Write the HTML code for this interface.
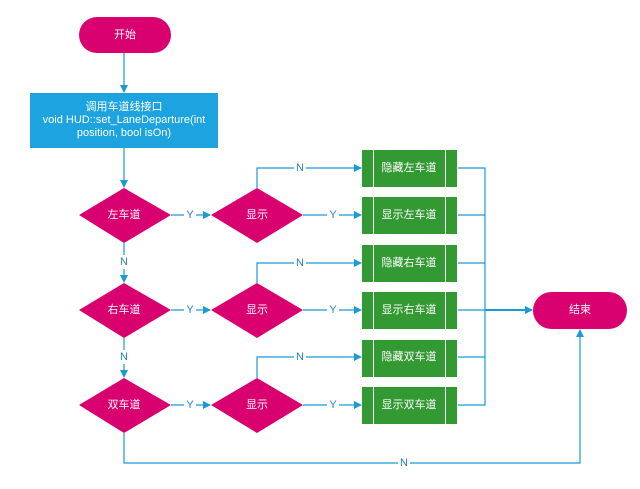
<!DOCTYPE html>
<html><head><meta charset="utf-8"><style>
html,body{margin:0;padding:0;background:#fff;}
svg{display:block;}
text{font-family:"Liberation Sans","Noto Sans CJK SC",sans-serif;font-size:11px;fill:#fff;text-anchor:middle;dominant-baseline:central;}
.l{fill:#2b7fb5;font-size:11px;}
</style></head><body>
<svg width="640" height="489" viewBox="0 0 640 489" xmlns="http://www.w3.org/2000/svg">
<defs><marker id="a" markerWidth="8" markerHeight="8" refX="7" refY="4" orient="auto" markerUnits="userSpaceOnUse"><path d="M0,0 L8,4 L0,8 Z" fill="#1a9ad6"/></marker></defs>
<g stroke="#1a9ad6" stroke-width="1.2" fill="none">
<line x1="124" y1="53" x2="124" y2="92" marker-end="url(#a)"/>
<line x1="124" y1="148" x2="124" y2="187" marker-end="url(#a)"/>
<line x1="124" y1="243" x2="124" y2="282" marker-end="url(#a)"/>
<line x1="124" y1="338" x2="124" y2="377" marker-end="url(#a)"/>
<line x1="171" y1="215" x2="210" y2="215" marker-end="url(#a)"/>
<line x1="171" y1="310" x2="210" y2="310" marker-end="url(#a)"/>
<line x1="171" y1="405" x2="210" y2="405" marker-end="url(#a)"/>
<line x1="303" y1="215" x2="361" y2="215" marker-end="url(#a)"/>
<line x1="303" y1="310" x2="361" y2="310" marker-end="url(#a)"/>
<line x1="303" y1="405" x2="361" y2="405" marker-end="url(#a)"/>
<polyline points="257,188 257,168 361,168" marker-end="url(#a)"/>
<polyline points="257,283 257,263 361,263" marker-end="url(#a)"/>
<polyline points="257,378 257,357 361,357" marker-end="url(#a)"/>
<polyline points="458,168 485,168 485,405 458,405"/>
<line x1="458" y1="215" x2="485" y2="215"/>
<line x1="458" y1="263" x2="485" y2="263"/>
<line x1="458" y1="310" x2="485" y2="310"/>
<line x1="458" y1="357" x2="485" y2="357"/>
<line x1="485" y1="310" x2="532" y2="310" stroke-width="2" marker-end="url(#a)"/>
<polyline points="124,433 124,463 580,463 580,330" marker-end="url(#a)"/>
</g>
<g fill="#fff">
<rect x="184" y="208" width="12" height="14"/><rect x="184" y="303" width="12" height="14"/><rect x="184" y="398" width="12" height="14"/>
<rect x="327" y="208" width="12" height="14"/><rect x="327" y="303" width="12" height="14"/><rect x="327" y="398" width="12" height="14"/>
<rect x="294" y="161" width="12" height="14"/><rect x="294" y="256" width="12" height="14"/><rect x="294" y="350" width="12" height="14"/>
<rect x="118" y="255" width="12" height="14"/><rect x="118" y="350" width="12" height="14"/><rect x="398" y="456" width="12" height="14"/>
</g>
<text class="l" x="190" y="215">Y</text><text class="l" x="190" y="310">Y</text><text class="l" x="190" y="405">Y</text>
<text class="l" x="333" y="215">Y</text><text class="l" x="333" y="310">Y</text><text class="l" x="333" y="405">Y</text>
<text class="l" x="300" y="168">N</text><text class="l" x="300" y="263">N</text><text class="l" x="300" y="357">N</text>
<text class="l" x="124" y="262">N</text><text class="l" x="124" y="357">N</text><text class="l" x="404" y="463">N</text>
<rect x="79" y="17" width="92" height="36" rx="18" fill="#d9006f"/><text x="125" y="35">开始</text>
<rect x="30" y="93" width="188" height="55" fill="#1ca3e0"/>
<text x="124" y="107">调用车道线接口</text><text x="124" y="120">void HUD::set_LaneDeparture(int</text><text x="124" y="133">position, bool isOn)</text>
<g fill="#d9006f">
<polygon points="79,215 124,188 171,215 124,243"/><polygon points="79,310 124,283 171,310 124,338"/><polygon points="79,405 124,378 171,405 124,433"/>
<polygon points="211,215 257,188 303,215 257,243"/><polygon points="211,310 257,283 303,310 257,338"/><polygon points="211,405 257,378 303,405 257,433"/>
</g>
<text x="124" y="215">左车道</text><text x="124" y="310">右车道</text><text x="124" y="405">双车道</text>
<text x="257" y="215">显示</text><text x="257" y="310">显示</text><text x="257" y="405">显示</text>
<g fill="#339933" stroke="#fff" stroke-width="0">
<rect x="362" y="150" width="95" height="37"/><rect x="362" y="197" width="95" height="37"/><rect x="362" y="245" width="95" height="37"/>
<rect x="362" y="292" width="95" height="37"/><rect x="362" y="340" width="95" height="37"/><rect x="362" y="387" width="95" height="37"/>
</g>
<g stroke="#fff" stroke-width="1">
<line x1="373.5" y1="150" x2="373.5" y2="424"/><line x1="445.5" y1="150" x2="445.5" y2="424"/>
</g>
<g fill="#fff"><rect x="362" y="187" width="96" height="10"/><rect x="362" y="234" width="96" height="11"/><rect x="362" y="282" width="96" height="10"/><rect x="362" y="329" width="96" height="11"/><rect x="362" y="377" width="96" height="10"/></g>
<text x="409" y="168">隐藏左车道</text><text x="409" y="215">显示左车道</text><text x="409" y="263">隐藏右车道</text>
<text x="409" y="310">显示右车道</text><text x="409" y="357">隐藏双车道</text><text x="409" y="405">显示双车道</text>
<rect x="533" y="292" width="94" height="37" rx="18.5" fill="#d9006f"/><text x="580" y="310">结束</text>
</svg>
</body></html>
